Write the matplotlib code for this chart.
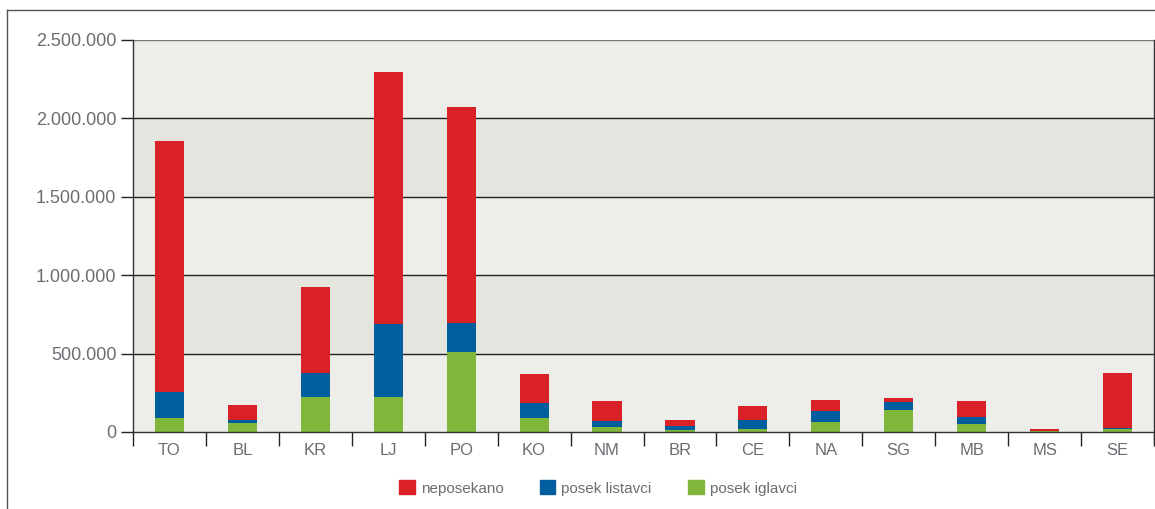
import matplotlib
matplotlib.use("Agg")
import matplotlib.pyplot as plt
from matplotlib.lines import Line2D
from matplotlib.patches import Patch
import numpy as np

plt.rcParams['font.family'] = ['Liberation Sans', 'DejaVu Sans']

regions = ["TO", "BL", "KR", "LJ", "PO", "KO", "NM", "BR", "CE", "NA", "SG", "MB", "MS", "SE"]
posek_iglavci = [91000, 55000, 223000, 223000, 512000, 89000, 30000, 13000, 21000, 64000, 142000, 49000, 5000, 17000]
posek_listavci = [166000, 22000, 153000, 464000, 181000, 94000, 40000, 25000, 56000, 72000, 49000, 47000, 3000, 9000]
neposekano = [1601000, 93000, 549000, 1609000, 1380000, 187000, 126000, 39000, 87000, 68000, 26000, 100000, 9000, 352000]
y_ticks = [0, 500000, 1000000, 1500000, 2000000, 2500000]

RED = "#da2128"
BLUE = "#005d9e"
GREEN = "#80b63a"
TEXT = "#6b6d72"
BAND_LIGHT = "#ededE9"
BAND_DARK = "#e5e5e0"

W, H = 1155, 509
fig = plt.figure(figsize=(W / 100, H / 100), dpi=100)
ax = fig.add_axes([133 / W, 1 - 432 / H, (1154 - 133) / W, (432 - 40) / H])

x = np.arange(len(regions))
g = np.array(posek_iglavci)
b = np.array(posek_listavci)
r = np.array(neposekano)

# alternating horizontal bands behind the bars
for i in range(len(y_ticks) - 1):
    ax.axhspan(y_ticks[i], y_ticks[i + 1], color=BAND_LIGHT if i % 2 == 0 else BAND_DARK,
               zorder=0, lw=0)
for yv in y_ticks[1:]:
    ax.axhline(yv, color="#222222" if yv < 2500000 else "#777777", lw=1.0, zorder=1)

width = 0.4
ax.bar(x, g, width, color=GREEN, zorder=2, label="posek iglavci")
ax.bar(x, b, width, bottom=g, color=BLUE, zorder=2, label="posek listavci")
ax.bar(x, r, width, bottom=g + b, color=RED, zorder=2, label="neposekano")

ax.set_xlim(-0.5, len(regions) - 0.5)
ax.set_ylim(0, 2500000)

ax.set_yticks(y_ticks)
ax.set_yticklabels([f"{v:,}".replace(",", ".") for v in y_ticks])
ax.set_xticks(x)
ax.set_xticklabels(regions)
ax.set_xticks(np.arange(len(regions) + 1) - 0.5, minor=True)
ax.tick_params(axis="x", which="major", length=0, pad=8, labelsize=12, labelcolor=TEXT)
ax.tick_params(axis="x", which="minor", length=10, width=1, color="#222222")
ax.tick_params(axis="y", length=9, width=1, color="#222222", pad=3, labelsize=13, labelcolor=TEXT)

for side in ["left", "right", "bottom"]:
    ax.spines[side].set_color("#333333")
    ax.spines[side].set_linewidth(1.0)
ax.spines["top"].set_visible(False)
ax.spines["right"].set_bounds(-0.026 * 2500000, 2500000)
ax.spines["right"].set_clip_on(False)

# outer frame of the figure
fig.add_artist(Line2D([7 / W, 1.0], [1 - 10 / H, 1 - 10 / H], color="#555555", lw=1.0,
                      transform=fig.transFigure))
fig.add_artist(Line2D([7 / W, 7 / W], [0, 1 - 10 / H], color="#555555", lw=1.0,
                      transform=fig.transFigure))

handles = [Patch(color=RED), Patch(color=BLUE), Patch(color=GREEN)]
labels = ["neposekano", "posek listavci", "posek iglavci"]
fig.legend(handles, labels, loc="center", bbox_to_anchor=(598 / W, 1 - 488 / H), ncol=3,
           frameon=False, handlelength=1.0, handleheight=1.0, handletextpad=0.4,
           columnspacing=2.4, prop={"size": 11}, labelcolor=TEXT)

fig.savefig("out.png", dpi=100, facecolor="white")
